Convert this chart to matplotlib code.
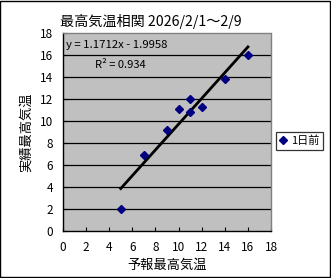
import matplotlib
matplotlib.use("Agg")
import matplotlib.pyplot as plt
from matplotlib.patches import Rectangle
import numpy as np

plt.rcParams["font.family"] = ["Noto Sans CJK JP", "DejaVu Sans"]

# forecast max temp vs actual max temp (2/1 - 2/9)
forecast = [5, 7, 9, 10, 11, 11, 12, 14, 16]
actual = [2.0, 6.9, 9.2, 11.1, 12.0, 10.8, 11.3, 13.8, 16.0]
slope, intercept = 1.1712, -1.9958
r2 = 0.934
ticks = list(range(0, 19, 2))

fig = plt.figure(figsize=(3.31, 2.78), dpi=100)
fig.patch.set_facecolor("white")
fig.patches.append(Rectangle((0.0015, 0.002), 0.996, 0.995, transform=fig.transFigure,
                             fill=False, edgecolor="black", linewidth=1.0))

ax = fig.add_axes([0.190, 0.169, 0.629, 0.712])
ax.set_facecolor("#C0C0C0")
ax.set_xlim(0, 18)
ax.set_ylim(0, 18)
ax.set_xticks(ticks)
ax.set_yticks(ticks)
ax.tick_params(direction="in", length=3, width=0.8, labelsize=8.5, pad=7)
for y in ticks[1:-1]:
    ax.axhline(y, color="black", linewidth=0.9, zorder=1)

for side in ["left", "bottom"]:
    ax.spines[side].set_color("black")
    ax.spines[side].set_linewidth(1.0)
for side in ["top", "right"]:
    ax.spines[side].set_color("#808080")
    ax.spines[side].set_linestyle((0, (1, 1)))
    ax.spines[side].set_linewidth(1.0)

xs = np.array([min(forecast), max(forecast)])
ax.plot(xs, slope * xs + intercept, color="black", linewidth=2.0, zorder=2)
ax.plot(forecast, actual, linestyle="none", marker="D", markersize=4,
        color="#000080", zorder=3, label="1日前")

ax.text(0.3, 16.9, f"y = {slope}x - {abs(intercept)}", fontsize=8.2, va="center", ha="left")
ax.text(2.8, 15.1, f"R² = {r2}", fontsize=8, va="center", ha="left")

fig.text(0.457, 0.922, "最高気温相関 2026/2/1～2/9", fontsize=10.2, ha="center", va="center")
ax.set_xlabel("予報最高気温", fontsize=9.5, labelpad=4)
ax.set_ylabel("実績最高気温", fontsize=9.5, labelpad=5)

leg = ax.legend(loc="center left", bbox_to_anchor=(0.995, 0.455), fontsize=8,
                frameon=True, fancybox=False, edgecolor="black", handlelength=0.8,
                handletextpad=0.3, borderpad=0.3, markerscale=0.9)
leg.get_frame().set_linewidth(0.9)

fig.savefig("out.png", dpi=100)
